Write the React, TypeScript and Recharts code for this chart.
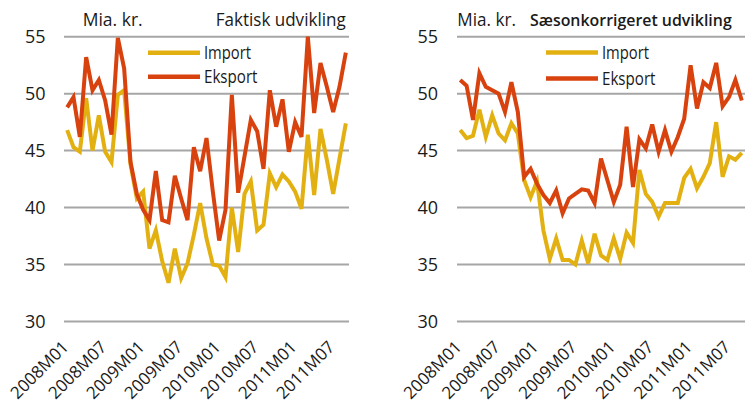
import React from 'react';
import { LineChart, Line, XAxis, YAxis, CartesianGrid, Legend } from 'recharts';

// ---- data ----
const years = [2008, 2009, 2010, 2011];
const monthCodes = ['01', '02', '03', '04', '05', '06', '07', '08', '09', '10', '11', '12'];
const categories: string[] = years
  .flatMap((y) => monthCodes.map((m) => `${y}M${m}`))
  .slice(0, 45);

const xTickLabels = ['2008M01', '2008M07', '2009M01', '2009M07', '2010M01', '2010M07', '2011M01', '2011M07'];
const yTicks = [30, 35, 40, 45, 50, 55];

const leftImport = [
  46.8, 45.3, 44.9, 49.6, 45.0, 48.1, 44.9, 44.0, 49.9, 50.3,
  43.8, 40.8, 41.4, 36.4, 38.0, 35.3, 33.4, 36.4, 33.8, 35.1,
  37.6, 40.4, 37.3, 35.0, 34.9, 33.9, 40.0, 36.1, 41.2, 42.3,
  38.0, 38.5, 43.0, 41.8, 42.9, 42.3, 41.4, 39.9, 46.4, 41.1,
  46.9, 44.2, 41.2, 44.3, 47.4,
];
const leftExport = [
  48.8, 49.7, 46.2, 53.2, 50.3, 51.2, 49.4, 46.4, 54.9, 52.2,
  44.0, 41.2, 39.8, 38.9, 43.2, 38.9, 38.7, 42.8, 40.8, 38.9,
  45.3, 43.2, 46.1, 41.4, 37.1, 39.8, 49.9, 41.3, 44.5, 47.7,
  46.7, 43.4, 50.3, 47.1, 49.5, 44.9, 47.5, 46.2, 55.0, 48.3,
  52.7, 50.6, 48.4, 50.6, 53.6,
];
const rightImport = [
  46.8, 46.1, 46.3, 48.6, 46.2, 48.1, 46.5, 45.9, 47.4, 46.5,
  42.4, 40.9, 42.3, 38.0, 35.5, 37.3, 35.4, 35.4, 35.0, 37.1,
  35.1, 37.7, 35.8, 35.4, 37.3, 35.5, 37.8, 36.9, 43.3, 41.2,
  40.5, 39.2, 40.4, 40.4, 40.4, 42.6, 43.4, 41.7, 42.7, 43.9,
  47.5, 42.7, 44.5, 44.2, 44.8,
];
const rightExport = [
  51.2, 50.7, 47.7, 51.8, 50.6, 50.3, 50.0, 48.4, 51.0, 48.4,
  42.7, 43.4, 42.1, 41.1, 40.4, 41.5, 39.5, 40.8, 41.2, 41.6,
  41.5, 40.4, 44.3, 42.4, 40.5, 42.0, 47.1, 41.8, 46.0, 45.2,
  47.3, 44.9, 46.8, 44.9, 46.2, 47.8, 52.5, 48.7, 51.0, 50.5,
  52.7, 48.9, 49.7, 51.2, 49.4,
];

const seriesNames = ['Import', 'Eksport'];
const unitLabel = 'Mia. kr.';
const leftTitle = 'Faktisk udvikling';
const rightTitle = 'Sæsonkorrigeret udvikling';

const leftData = categories.map((m, i) => ({ m, imp: leftImport[i], eks: leftExport[i] }));
const rightData = categories.map((m, i) => ({ m, imp: rightImport[i], eks: rightExport[i] }));

// ---- style ----
const FONT = '"Open Sans", "DejaVu Sans", sans-serif';
const TEXT = '#1a1a1a';
const IMPORT_COLOR = '#E3B011';
const EXPORT_COLOR = '#D8420E';
const GRID = '#a6a6a6';
const seriesColors: Record<string, string> = { Import: IMPORT_COLOR, Eksport: EXPORT_COLOR };

const PLOT_TOP = 36.7;
const PLOT_BOTTOM = 321.5;
const CHART_H = 403;
const X_AXIS_H = 60;

const XTick = (props: any) => {
  const { x, payload } = props;
  if (!xTickLabels.includes(payload.value)) return <g />;
  const ax = x + 2.5;
  const ay = 348;
  return (
    <text
      x={ax}
      y={ay}
      transform={`rotate(-45 ${ax} ${ay})`}
      textAnchor="end"
      fontSize={17}
      fontFamily={FONT}
      fill={TEXT}
    >
      {payload.value}
    </text>
  );
};

const makeYTick = (xEnd: number) => (props: any) => {
  const { y, payload } = props;
  return (
    <text x={xEnd} y={y} dy="0.36em" textAnchor="end" fontSize={18} fontFamily={FONT} fill={TEXT}>
      {payload.value}
    </text>
  );
};

const makeLegend = (rowYs: number[]) => (props: any) => {
  const payload = (props && props.payload) || [];
  const items = seriesNames.map((name) => {
    const found = payload.find((p: any) => p.value === name);
    return { name, color: found ? found.color : seriesColors[name] };
  });
  const widths: Record<string, number> = { Import: 47, Eksport: 53.5 };
  return (
    <svg width={130} height={60} style={{ display: 'block', overflow: 'visible' }}>
      {items.map((it: any, i: number) => (
        <g key={it.name}>
          <line x1={2} x2={54} y1={rowYs[i]} y2={rowYs[i]} stroke={it.color} strokeWidth={4.5} />
          <text
            x={58}
            y={rowYs[i] + 6.3}
            fontSize={17.5}
            fontFamily={FONT}
            fill={TEXT}
            textLength={widths[it.name]}
            lengthAdjust="spacingAndGlyphs"
          >
            {it.name}
          </text>
        </g>
      ))}
    </svg>
  );
};

type PanelProps = {
  data: any[];
  left: number;
  width: number;
  yAxisWidth: number;
  rightMargin: number;
  yLabelX: number;
  legendLeft: number;
  legendRows: number[];
  pad: number;
};

const Panel = (p: PanelProps) => (
  <div style={{ position: 'absolute', left: p.left, top: 0, width: p.width, height: CHART_H }}>
    <LineChart
      width={p.width}
      height={CHART_H}
      data={p.data}
      margin={{ top: PLOT_TOP, right: p.rightMargin, bottom: CHART_H - PLOT_BOTTOM - X_AXIS_H, left: 0 }}
      style={{ overflow: 'visible' }}
    >
      <CartesianGrid vertical={false} stroke={GRID} strokeWidth={2} />
      <XAxis
        dataKey="m"
        type="category"
        interval={0}
        tick={<XTick />}
        tickLine={false}
        axisLine={false}
        height={X_AXIS_H}
        padding={{ left: p.pad, right: p.pad }}
      />
      <YAxis
        type="number"
        domain={[30, 55]}
        ticks={yTicks}
        width={p.yAxisWidth}
        tick={makeYTick(p.yLabelX)}
        tickLine={false}
        axisLine={false}
        interval={0}
      />
      <Legend
        layout="vertical"
        align="center"
        verticalAlign="middle"
        wrapperStyle={{ left: p.legendLeft, top: 40, width: 130, height: 60 }}
        content={makeLegend(p.legendRows)}
      />
      <Line
        dataKey="imp"
        name={seriesNames[0]}
        stroke={IMPORT_COLOR}
        strokeWidth={4}
        dot={false}
        type="linear"
        isAnimationActive={false}
      />
      <Line
        dataKey="eks"
        name={seriesNames[1]}
        stroke={EXPORT_COLOR}
        strokeWidth={4}
        dot={false}
        type="linear"
        isAnimationActive={false}
      />
    </LineChart>
  </div>
);

export default function App() {
  return (
    <div
      style={{
        position: 'absolute',
        left: 0,
        top: 0,
        width: 745,
        height: 403,
        background: '#ffffff',
        overflow: 'hidden',
        fontFamily: FONT,
      }}
    >
      <Panel
        data={leftData}
        left={0}
        width={372}
        yAxisWidth={64}
        rightMargin={23}
        yLabelX={45.5}
        legendLeft={146}
        legendRows={[12.7, 36.7]}
        pad={3.17}
      />
      <Panel
        data={rightData}
        left={372}
        width={373}
        yAxisWidth={85}
        rightMargin={0}
        yLabelX={66}
        legendLeft={171.5}
        legendRows={[12.5, 38.5]}
        pad={3.2}
      />
      <svg
        width={745}
        height={403}
        style={{ position: 'absolute', left: 0, top: 0, pointerEvents: 'none' }}
      >
        <text x={82.7} y={25.5} fontSize={18} fontFamily={FONT} fill={TEXT} textLength={60} lengthAdjust="spacingAndGlyphs">
          {unitLabel}
        </text>
        <text x={215.7} y={25.5} fontSize={18} fontFamily={FONT} fill={TEXT} textLength={130} lengthAdjust="spacingAndGlyphs">
          {leftTitle}
        </text>
        <text x={457.3} y={25.5} fontSize={18} fontFamily={FONT} fill={TEXT} textLength={58.7} lengthAdjust="spacingAndGlyphs">
          {unitLabel}
        </text>
        <text
          x={530}
          y={25.5}
          fontSize={16.5}
          fontWeight={600}
          fontFamily={FONT}
          fill={TEXT}
          textLength={201.7}
          lengthAdjust="spacingAndGlyphs"
        >
          {rightTitle}
        </text>
      </svg>
    </div>
  );
}
